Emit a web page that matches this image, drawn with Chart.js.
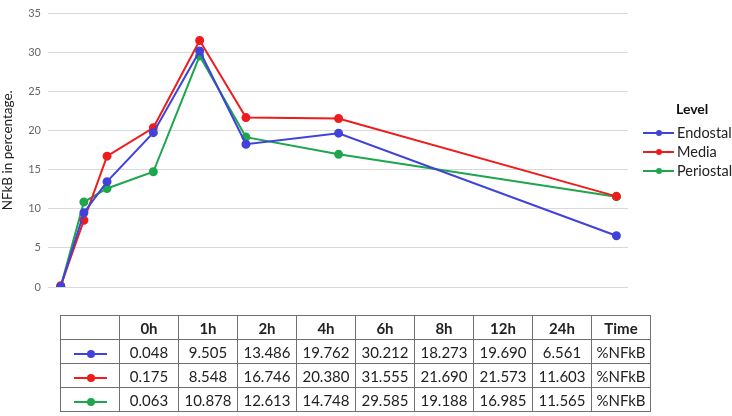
<!DOCTYPE html>
<html>
<head>
<meta charset="utf-8">
<script src="https://cdn.jsdelivr.net/npm/chart.js@4/dist/chart.umd.min.js"></script>
<style>
  html, body { margin: 0; padding: 0; background: #fff; }
  #wrap { position: relative; width: 732px; height: 416px; overflow: hidden; }
  #c { position: absolute; left: 0; top: 0; }
  #tbl { position: absolute; left: 60px; top: 315px; border-collapse: collapse; table-layout: fixed; width: 590px;
         font-family: Lato, "Open Sans", sans-serif; font-size: 15px; color: #222; }
  #tbl td { border: 1.5px solid #707070; text-align: center; padding: 0; height: 23px; white-space: nowrap; overflow: hidden; }
  #tbl tr.hdr td { font-weight: bold; }
  .sym { display: inline-block; position: relative; width: 33px; height: 10px; vertical-align: middle; }
  .sym .ln { position: absolute; left: 0; right: 0; top: 4px; height: 2px; }
  .sym .dt { position: absolute; left: 13px; top: 1px; width: 8px; height: 8px; border-radius: 50%; }
</style>
</head>
<body>
<div id="wrap">
  <canvas id="c" width="732" height="416"></canvas>
  <table id="tbl"></table>
</div>
<script>
// ---- data ----
const timeLabels = ["0h", "1h", "2h", "4h", "6h", "8h", "12h", "24h"];
const hours = [0, 1, 2, 4, 6, 8, 12, 24];
const seriesNames = ["Endostal", "Media", "Periostal"];
const endostal = [0.048, 9.505, 13.486, 19.762, 30.212, 18.273, 19.690, 6.561];
const media = [0.175, 8.548, 16.746, 20.380, 31.555, 21.690, 21.573, 11.603];
const periostal = [0.063, 10.878, 12.613, 14.748, 29.585, 19.188, 16.985, 11.565];
const unitLabel = "%NFkB";
const yTicks = [0, 5, 10, 15, 20, 25, 30, 35];

const colors = ["#4141dc", "#ee1c1c", "#1ea64e"];
const seriesValues = [endostal, media, periostal];

const datasets = seriesNames.map((name, i) => ({
  label: name,
  data: hours.map((h, j) => ({ x: h, y: seriesValues[i][j] })),
  borderColor: colors[i],
  backgroundColor: colors[i],
  borderWidth: 2,
  pointRadius: 3.5,
  pointHoverRadius: 3.5,
  tension: 0
}));

const legendPlugin = {
  id: 'customLegend',
  afterDraw(chart) {
    const ctx = chart.ctx;
    ctx.save();
    ctx.fillStyle = '#111';
    ctx.font = 'bold 14px Lato, "Open Sans", sans-serif';
    ctx.textBaseline = 'middle';
    ctx.textAlign = 'left';
    ctx.fillText('Level', 676, 109);
    ctx.font = '14.5px Lato, "Open Sans", sans-serif';
    chart.data.datasets.forEach((ds, i) => {
      const y = 133 + i * 19;
      ctx.strokeStyle = ds.borderColor;
      ctx.lineWidth = 2;
      ctx.beginPath(); ctx.moveTo(643, y); ctx.lineTo(674, y); ctx.stroke();
      ctx.fillStyle = ds.borderColor;
      ctx.beginPath(); ctx.arc(659, y, 3, 0, Math.PI * 2); ctx.fill();
      ctx.fillStyle = '#222';
      ctx.fillText(ds.label, 677, y);
    });
    ctx.restore();
  }
};

new Chart(document.getElementById('c'), {
  type: 'line',
  data: { datasets },
  options: {
    responsive: false,
    animation: false,
    events: [],
    layout: { padding: { left: 0, top: 6, right: 104, bottom: 129 } },
    plugins: { legend: { display: false }, tooltip: { enabled: false } },
    scales: {
      x: { type: 'linear', min: -0.55, max: 24.5, display: false },
      y: {
        min: 0, max: 35,
        afterBuildTicks: (s) => { s.ticks = yTicks.map(v => ({ value: v })); },
        afterFit: (s) => { s.width = 48; },
        border: { display: false },
        grid: { color: '#d9d9d9', lineWidth: 1, drawTicks: false },
        ticks: { color: '#666', font: { size: 11, family: 'Lato, "Open Sans", sans-serif' }, padding: 7 },
        title: { display: true, text: 'NFkB in percentage.', color: '#222',
                 font: { size: 13.5, family: 'Lato, "Open Sans", sans-serif' }, padding: { top: 0, bottom: 0 } }
      }
    }
  },
  plugins: [legendPlugin]
});

// ---- table ----
const tbl = document.getElementById('tbl');
let html = '<colgroup><col style="width:59px">' + timeLabels.map(() => '<col style="width:59px">').join('') + '<col style="width:59px"></colgroup>';
html += '<tr class="hdr"><td></td>' + timeLabels.map(t => '<td>' + t + '</td>').join('') + '<td>Time</td></tr>';
seriesValues.forEach((vals, i) => {
  html += '<tr><td><span class="sym"><span class="ln" style="background:' + colors[i] + '"></span><span class="dt" style="background:' + colors[i] + '"></span></span></td>' +
    vals.map(v => '<td>' + v.toFixed(3) + '</td>').join('') + '<td>' + unitLabel + '</td></tr>';
});
tbl.innerHTML = html;
</script>
</body>
</html>
